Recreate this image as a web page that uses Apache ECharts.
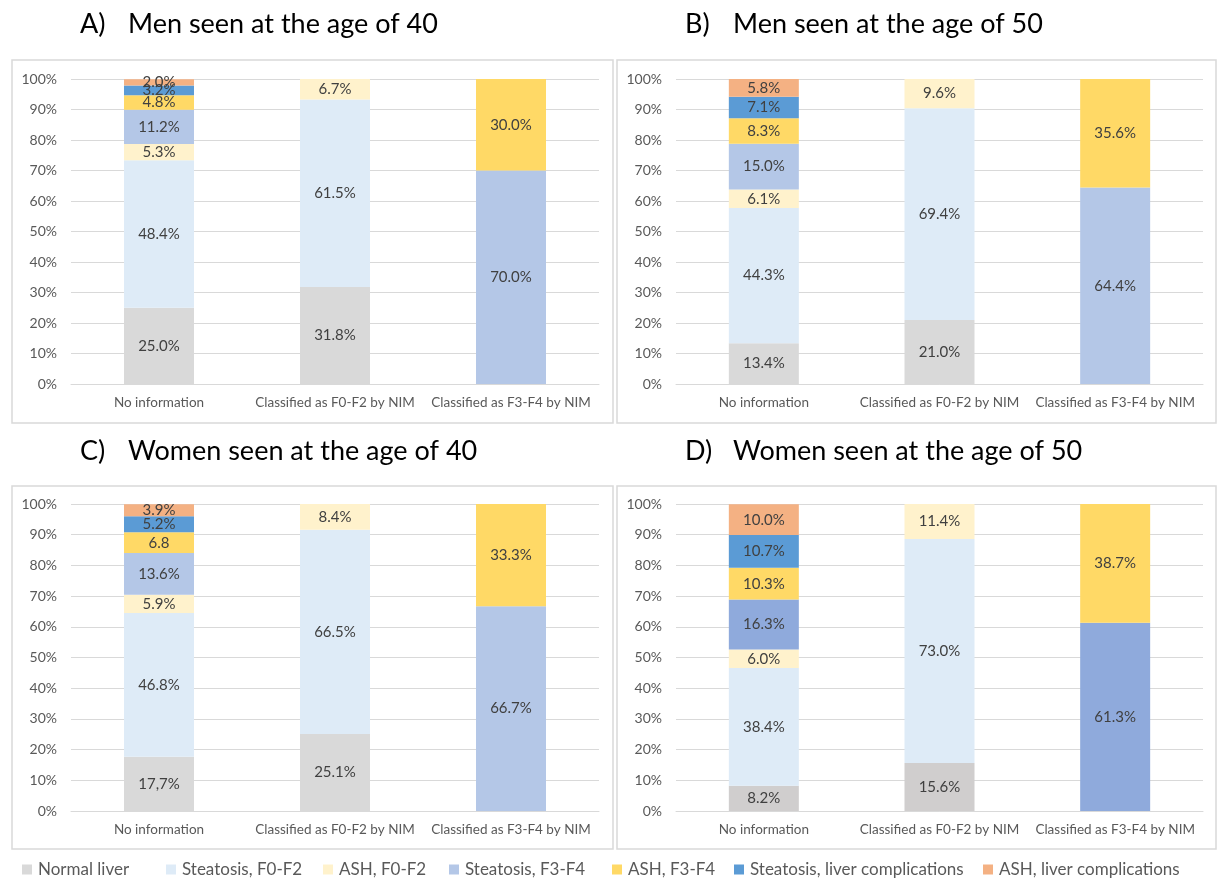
<!DOCTYPE html>
<html>
<head>
<meta charset="utf-8">
<script src="https://cdn.jsdelivr.net/npm/echarts@6/dist/echarts.min.js"></script>
<style>
html,body{margin:0;padding:0;background:#fff;}
#chart{width:1218px;height:878px;}
</style>
</head>
<body>
<div id="chart"></div>
<script>
// ---- Data ----
const categories = ['No information', 'Classified as F0-F2 by NIM', 'Classified as F3-F4 by NIM'];
const seriesNames = ['Normal liver', 'Steatosis, F0-F2', 'ASH, F0-F2', 'Steatosis, F3-F4', 'ASH, F3-F4', 'Steatosis, liver complications', 'ASH, liver complications'];
const panelLetters = ['A)', 'B)', 'C)', 'D)'];
const panelTitles = ['Men seen at the age of 40', 'Men seen at the age of 50', 'Women seen at the age of 40', 'Women seen at the age of 50'];
const yTicks = [0, 10, 20, 30, 40, 50, 60, 70, 80, 90, 100];

// values per category, in series order (bottom to top)
const men40_noInfo = [25.0, 48.4, 5.3, 11.2, 4.8, 3.2, 2.0];
const men40_F0F2   = [31.8, 61.5, 6.7, null, null, null, null];
const men40_F3F4   = [null, null, null, 70.0, 30.0, null, null];

const men50_noInfo = [13.4, 44.3, 6.1, 15.0, 8.3, 7.1, 5.8];
const men50_F0F2   = [21.0, 69.4, 9.6, null, null, null, null];
const men50_F3F4   = [null, null, null, 64.4, 35.6, null, null];

const women40_noInfo = [17.7, 46.8, 5.9, 13.6, 6.8, 5.2, 3.9];
const women40_F0F2   = [25.1, 66.5, 8.4, null, null, null, null];
const women40_F3F4   = [null, null, null, 66.7, 33.3, null, null];
const women40_noInfo_labels = ['17,7%', null, null, null, '6.8', null, null];

const women50_noInfo = [8.2, 38.4, 6.0, 16.3, 10.3, 10.7, 10.0];
const women50_F0F2   = [15.6, 73.0, 11.4, null, null, null, null];
const women50_F3F4   = [null, null, null, 61.3, 38.7, null, null];

// ---- Styles ----
const colorsStd = ['#D9D9D9', '#DEEBF7', '#FFF2CC', '#B4C7E7', '#FFD966', '#5B9BD5', '#F4B183'];
const colorsD   = ['#D0CECE', '#DEEBF7', '#FFF2CC', '#8FAADC', '#FFD966', '#5B9BD5', '#F4B183'];
const FONT = 'Lato, "Open Sans", sans-serif';

const panels = [
  {data: [men40_noInfo, men40_F0F2, men40_F3F4], labels: null, colors: colorsStd,
   grid: {left: 71, top: 79, width: 528, height: 305}, box: [12, 60, 601, 363], title: {x: 80, y: 11}},
  {data: [men50_noInfo, men50_F0F2, men50_F3F4], labels: null, colors: colorsStd,
   grid: {left: 676, top: 79, width: 527, height: 305}, box: [617, 60, 599, 363], title: {x: 685, y: 11}},
  {data: [women40_noInfo, women40_F0F2, women40_F3F4], labels: [women40_noInfo_labels, null, null], colors: colorsStd,
   grid: {left: 71, top: 504, width: 528, height: 307}, box: [12, 486, 601, 363], title: {x: 80, y: 438}},
  {data: [women50_noInfo, women50_F0F2, women50_F3F4], labels: null, colors: colorsD,
   grid: {left: 676, top: 504, width: 527, height: 307}, box: [617, 486, 599, 363], title: {x: 685, y: 438}}
];

const grids = [], xAxes = [], yAxes = [], series = [], titles = [], graphics = [];

panels.forEach((p, pi) => {
  grids.push(Object.assign({containLabel: false}, p.grid));
  xAxes.push({
    type: 'category', gridIndex: pi, data: categories,
    axisLine: {show: true, lineStyle: {color: '#D9D9D9', width: 1}},
    axisTick: {show: false},
    axisLabel: {color: '#595959', fontFamily: FONT, fontSize: 13.5, margin: 12, interval: 0}
  });
  yAxes.push({
    type: 'value', gridIndex: pi, min: yTicks[0], max: yTicks[yTicks.length - 1], interval: 10,
    axisLine: {show: false}, axisTick: {show: false},
    splitLine: {show: true, lineStyle: {color: '#D9D9D9', width: 1}},
    axisLabel: {color: '#595959', fontFamily: FONT, fontSize: 14, margin: 14, formatter: '{value}%'}
  });
  seriesNames.forEach((name, si) => {
    const vals = p.data.map(cat => cat[si]);
    series.push({
      type: 'bar', name: name, xAxisIndex: pi, yAxisIndex: pi, stack: 'p' + pi,
      barWidth: 70,
      itemStyle: {color: p.colors[si]},
      label: {
        show: true, position: 'inside', color: '#404040', fontFamily: FONT, fontSize: 15,
        formatter: (params) => {
          const ov = p.labels && p.labels[params.dataIndex] && p.labels[params.dataIndex][si];
          if (ov) return ov;
          return params.value == null ? '' : Number(params.value).toFixed(1) + '%';
        }
      },
      emphasis: {disabled: true},
      data: vals
    });
  });
  titles.push({text: panelLetters[pi], left: p.title.x, top: p.title.y, padding: 0,
    textStyle: {fontFamily: FONT, fontSize: 27, fontWeight: 'normal', color: '#000'}});
  titles.push({text: panelTitles[pi], left: p.title.x + 48, top: p.title.y, padding: 0,
    textStyle: {fontFamily: FONT, fontSize: 27, fontWeight: 'normal', color: '#000'}});
  graphics.push({
    type: 'rect', silent: true, z: -1,
    shape: {x: p.box[0], y: p.box[1], width: p.box[2], height: p.box[3]},
    style: {fill: 'none', stroke: '#D9D9D9', lineWidth: 1.5}
  });
});

const legendX = [22, 166, 323, 449, 612, 734, 983];
const legends = seriesNames.map((name, i) => ({
  data: [name], left: legendX[i], top: 861, padding: 0, selectedMode: false,
  icon: 'rect', itemWidth: 10, itemHeight: 10,
  textStyle: {color: '#595959', fontFamily: FONT, fontSize: 17, padding: [0, 0, 0, 1]}
}));

const chart = echarts.init(document.getElementById('chart'), null, {renderer: 'canvas'});
chart.setOption({
  backgroundColor: '#fff',
  animation: false,
  title: titles,
  legend: legends,
  grid: grids,
  xAxis: xAxes,
  yAxis: yAxes,
  series: series,
  graphic: graphics
});
</script>
</body>
</html>
